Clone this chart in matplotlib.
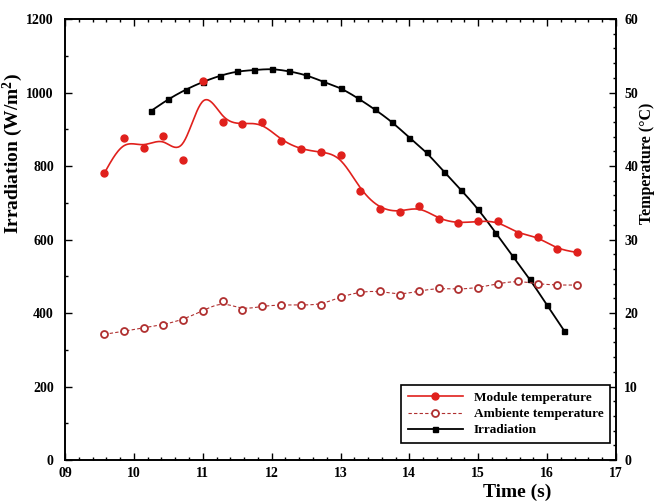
import numpy as np
import matplotlib
matplotlib.use("Agg")
import matplotlib.pyplot as plt
from matplotlib.lines import Line2D
from matplotlib.ticker import MultipleLocator, FixedLocator

plt.rcParams['font.family'] = ['Liberation Serif', 'DejaVu Serif']
plt.rcParams['font.weight'] = 'bold'
plt.rcParams['mathtext.fontset'] = 'custom'
plt.rcParams['mathtext.rm'] = 'Liberation Serif'
plt.rcParams['mathtext.bf'] = 'Liberation Serif:bold'

# ---- data ----
irr_time = [10.25, 10.5, 10.75, 11.0, 11.25, 11.5, 11.75, 12.0, 12.25, 12.5,
            12.75, 13.0, 13.25, 13.5, 13.75, 14.0, 14.25, 14.5, 14.75, 15.0,
            15.25, 15.5, 15.75, 16.0, 16.25]
irradiation = [950, 982, 1008, 1029, 1046, 1058, 1061, 1065, 1058, 1048,
               1029, 1013, 985, 954, 920, 877, 838, 784, 735, 683,
               619, 555, 492, 421, 351]

temp_time = [9.57, 9.85, 10.14, 10.43, 10.71, 11.0, 11.29, 11.57, 11.86, 12.14,
             12.43, 12.71, 13.0, 13.29, 13.57, 13.86, 14.14, 14.43, 14.71, 15.0,
             15.29, 15.57, 15.86, 16.14, 16.43]
module_temp = [39.0, 43.75, 42.4, 44.1, 40.75, 51.5, 46.0, 45.7, 45.95, 43.45,
               42.25, 41.9, 41.5, 36.65, 34.15, 33.7, 34.55, 32.75, 32.2, 32.5,
               32.5, 30.8, 30.4, 28.7, 28.25]
ambient_temp = [17.1, 17.5, 18.0, 18.4, 19.1, 20.3, 21.6, 20.4, 20.95, 21.1,
                21.1, 21.1, 22.2, 22.9, 23.0, 22.45, 23.0, 23.4, 23.2, 23.45,
                24.0, 24.4, 23.95, 23.8, 23.8]

xtick_labels = ['09', '10', '11', '12', '13', '14', '15', '16', '17']
legend_labels = ['Module temperature', 'Ambiente temperature', 'Irradiation']


def bspline(x, y, n=24):
    """Uniform cubic B-spline using the data as control points (Origin style)."""
    P = np.column_stack([x, y]).astype(float)
    P = np.vstack([2 * P[0] - P[1], P, 2 * P[-1] - P[-2]])
    out = []
    t = np.linspace(0, 1, n, endpoint=False)
    b0 = (1 - t) ** 3 / 6
    b1 = (3 * t ** 3 - 6 * t ** 2 + 4) / 6
    b2 = (-3 * t ** 3 + 3 * t ** 2 + 3 * t + 1) / 6
    b3 = t ** 3 / 6
    for i in range(len(P) - 3):
        seg = (np.outer(b0, P[i]) + np.outer(b1, P[i + 1]) +
               np.outer(b2, P[i + 2]) + np.outer(b3, P[i + 3]))
        out.append(seg)
    out.append(P[-2][None, :])
    out = np.vstack(out)
    return out[:, 0], out[:, 1]


red = '#e0201c'
dred = '#b03030'

fig = plt.figure(figsize=(6.55, 5.04), dpi=100)
ax = fig.add_axes([0.0992, 0.0873, 0.8413, 0.875])
ax2 = ax.twinx()

# irradiation (left axis)
bx, by = bspline(irr_time, irradiation)
ax.plot(bx, by, color='black', lw=1.3, zorder=3)
ax.plot(irr_time, irradiation, ls='none', marker='s', ms=3.6, color='black', zorder=4)

# temperatures (right axis)
mx, my = bspline(temp_time, module_temp)
ax2.plot(mx, my, color=red, lw=1.2, zorder=3)
ax2.plot(temp_time, module_temp, ls='none', marker='o', ms=5, color=red, zorder=4)

ax_x, ax_y = bspline(temp_time, ambient_temp)
ax2.plot(ax_x, ax_y, color=dred, lw=0.8, ls=(0, (3, 2)), zorder=3)
ax2.plot(temp_time, ambient_temp, ls='none', marker='o', ms=5, mfc='white',
         mec=dred, mew=1.3, zorder=4)

# axes limits/ticks
ax.set_xlim(9, 17)
ax.set_ylim(0, 1200)
ax2.set_ylim(0, 60)
ax.xaxis.set_major_locator(FixedLocator(range(9, 18)))
ax.set_xticklabels(xtick_labels)
ax.xaxis.set_minor_locator(MultipleLocator(0.2))
ax.yaxis.set_major_locator(MultipleLocator(200))
ax.yaxis.set_minor_locator(MultipleLocator(100))
ax2.yaxis.set_major_locator(MultipleLocator(10))
ax2.yaxis.set_minor_locator(MultipleLocator(2))

ax.tick_params(axis='both', which='both', direction='in', top=True, right=False,
               labelsize=10, width=1.0)
ax.tick_params(which='major', length=5)
ax.tick_params(which='minor', length=2.5)
ax.tick_params(axis='x', which='major', pad=5)
ax.tick_params(axis='y', which='major', pad=8)
ax2.tick_params(axis='y', which='both', direction='in', labelsize=10, width=1.0)
ax2.tick_params(which='major', length=5, pad=6)
ax2.tick_params(which='minor', length=2.5)
for a in (ax, ax2):
    for s in a.spines.values():
        s.set_linewidth(1.2)
    for lab in a.get_xticklabels() + a.get_yticklabels():
        lab.set_fontweight('bold')

ax.set_ylabel(r'Irradiation (W/m$\mathbf{^{2}}$)', fontsize=14, fontweight='bold')
ax.yaxis.set_label_coords(-0.073, 0.696)
ax2.set_ylabel('Temperature (°C)', fontsize=11.5, fontweight='bold')
ax2.yaxis.set_label_coords(1.041, 0.673)
ax.set_xlabel('Time (s)', fontsize=14, fontweight='bold')
ax.xaxis.set_label_coords(0.82, -0.053)

handles = [
    Line2D([], [], color=red, lw=1.2, marker='o', ms=5),
    Line2D([], [], color=dred, lw=0.8, ls=(0, (3, 2)), marker='o', ms=5,
           mfc='white', mec=dred, mew=1.3),
    Line2D([], [], color='black', lw=1.3, marker='s', ms=3.6),
]
leg = ax2.legend(handles, legend_labels, loc='lower right',
                 bbox_to_anchor=(0.989, 0.0385), borderaxespad=0,
                 fancybox=False, framealpha=1,
                 edgecolor='black', handlelength=4.2, borderpad=0.5,
                 labelspacing=0.3, prop={'weight': 'bold', 'size': 9.5})
leg.get_frame().set_linewidth(1.2)

fig.savefig('out.png', dpi=100)
